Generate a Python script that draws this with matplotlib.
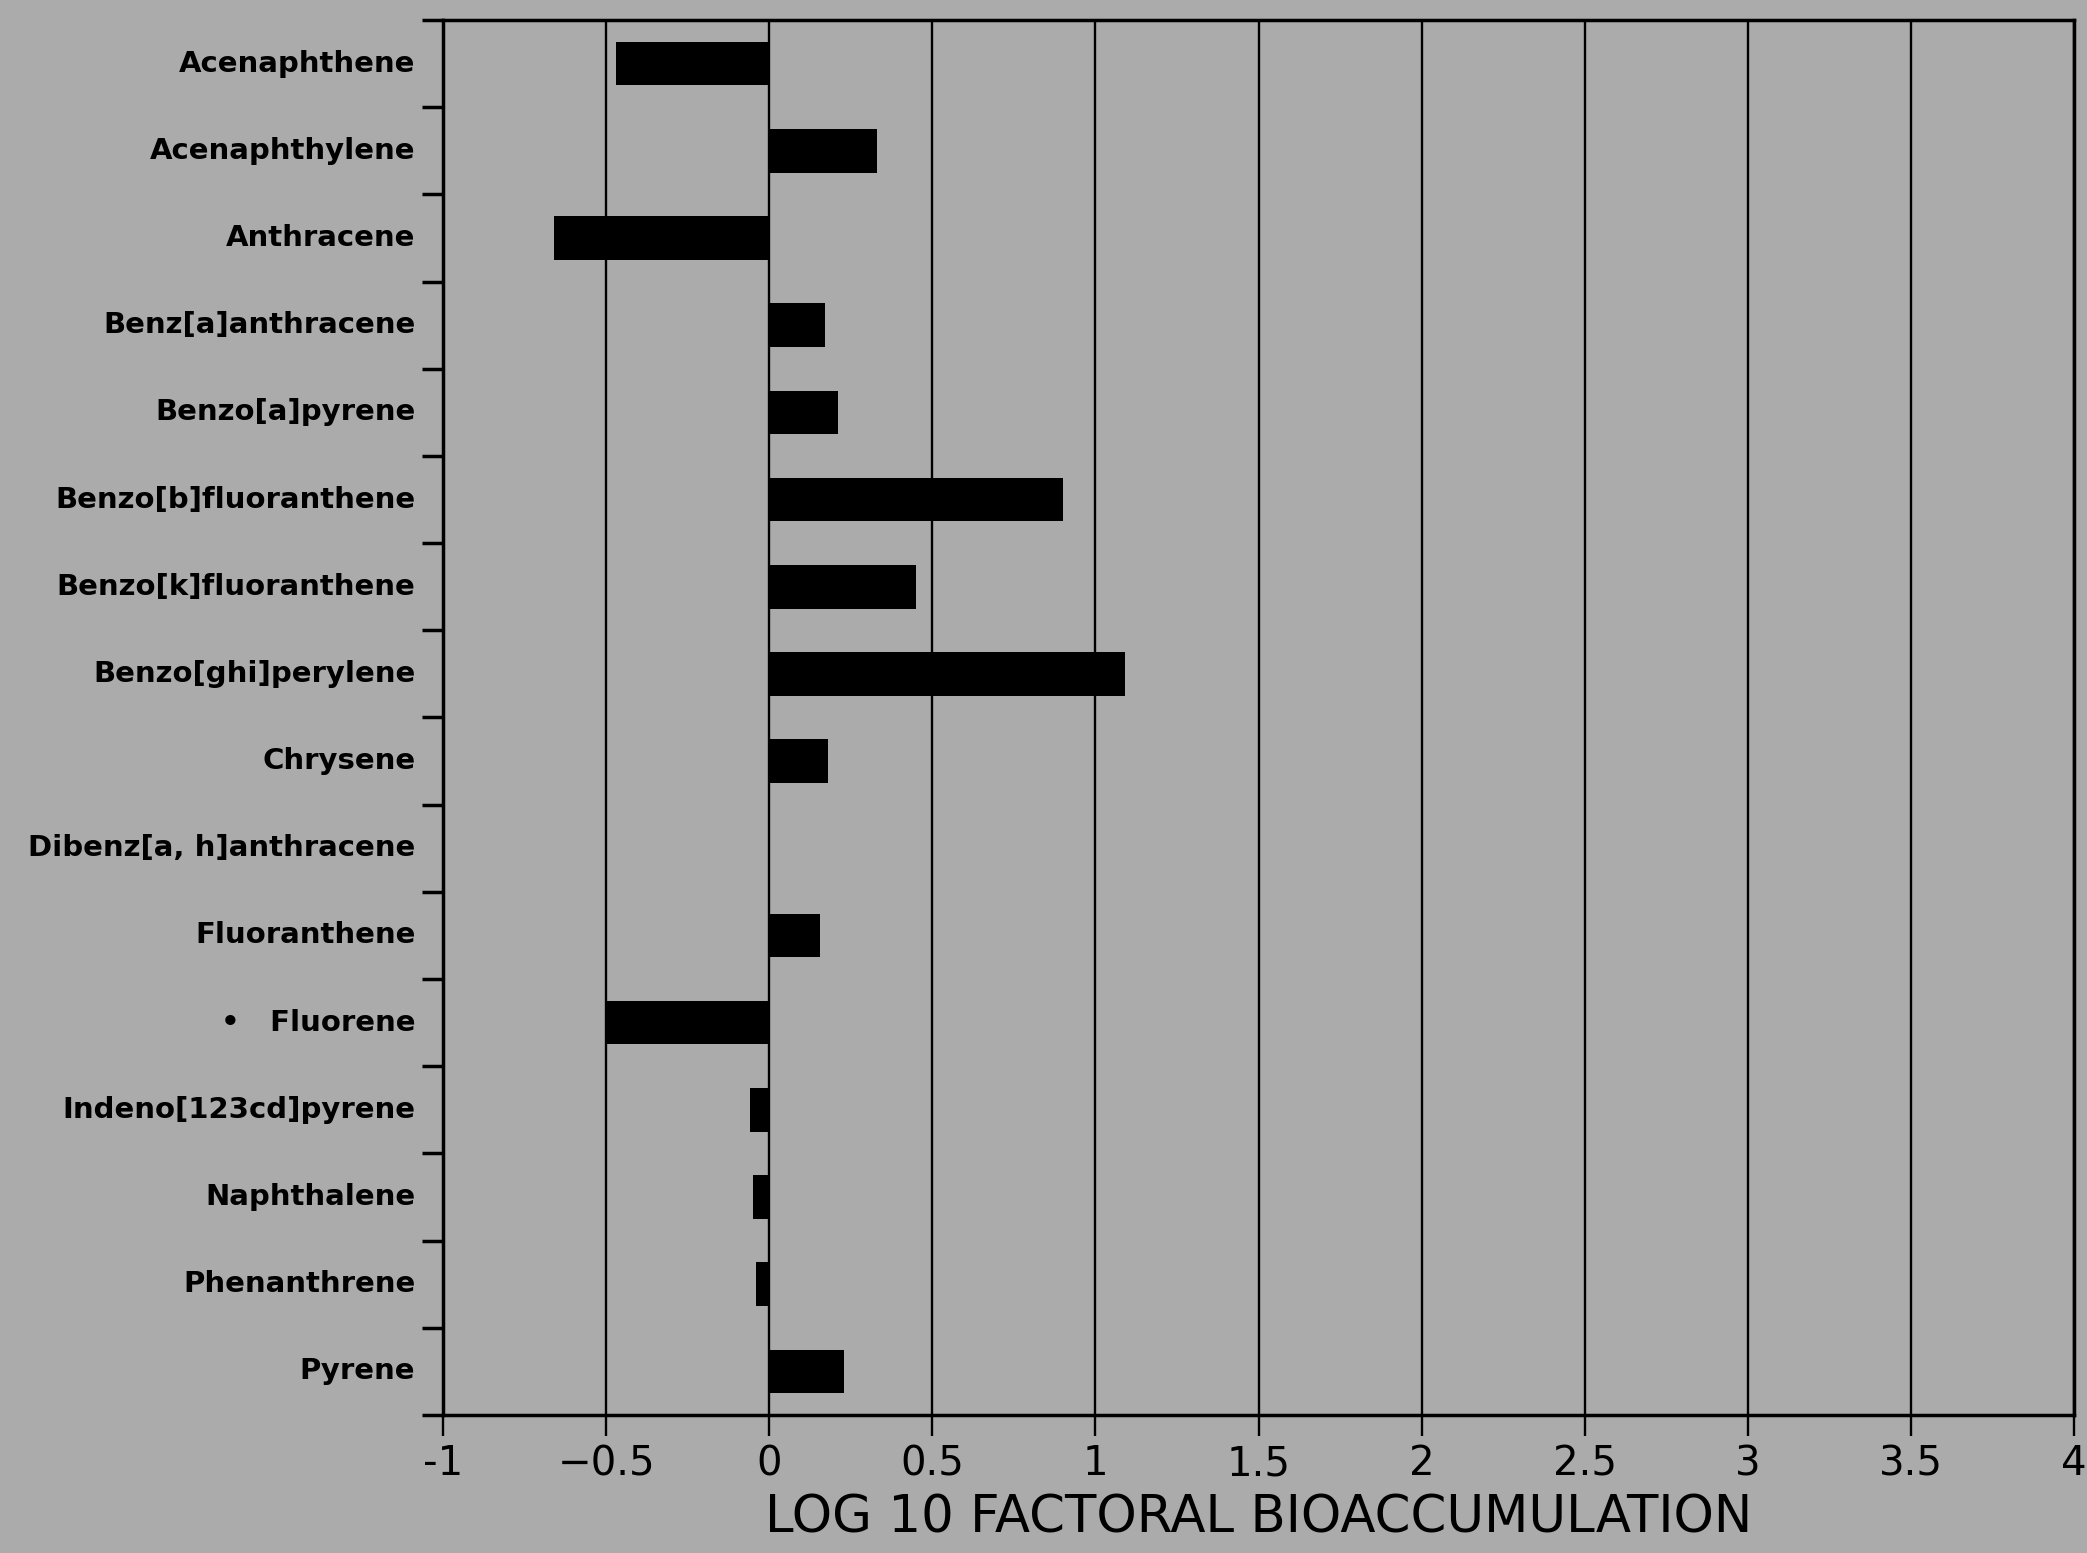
import matplotlib
matplotlib.use("Agg")
import matplotlib.pyplot as plt
import numpy as np

compounds = [
    "Acenaphthene", "Acenaphthylene", "Anthracene", "Benz[a]anthracene",
    "Benzo[a]pyrene", "Benzo[b]fluoranthene", "Benzo[k]fluoranthene",
    "Benzo[ghi]perylene", "Chrysene", "Dibenz[a, h]anthracene",
    "Fluoranthene", "•   Fluorene", "Indeno[123cd]pyrene", "Naphthalene",
    "Phenanthrene", "Pyrene",
]
log10_bioaccumulation = [
    -0.47, 0.33, -0.66, 0.17, 0.21, 0.90, 0.45, 1.09,
    0.18, 0.0, 0.155, -0.50, -0.06, -0.05, -0.04, 0.23,
]
x_ticks = [-1, -0.5, 0, 0.5, 1, 1.5, 2, 2.5, 3, 3.5, 4]
x_tick_labels = ["-1", "\u22120.5", "0", "0.5", "1", "1.5", "2", "2.5", "3", "3.5", "4"]
x_label = "LOG 10 FACTORAL BIOACCUMULATION"

bg = "#ababab"
plt.rcParams['font.family'] = ['DejaVu Sans']

fig = plt.figure(figsize=(20.87, 15.53), dpi=100, facecolor=bg)
ax = fig.add_axes([0.2123, 0.0889, 0.9938 - 0.2123, 0.9871 - 0.0889])
ax.set_facecolor(bg)

n = len(compounds)
pos = np.arange(n)
ax.barh(pos, log10_bioaccumulation, height=0.5, color="black", zorder=3)

ax.set_xlim(-1, 4)
ax.set_ylim(n - 0.5, -0.5)

for xv in x_ticks:
    ax.axvline(xv, color="black", lw=1.7, zorder=2)

ax.set_xticks(x_ticks)
ax.set_xticklabels(x_tick_labels, fontsize=29)
ax.tick_params(axis="x", direction="out", length=15, width=1.7, pad=6, colors="black")

ax.set_yticks(pos)
ax.set_yticklabels(compounds, fontsize=21, fontweight="bold", va="top")
for lbl in ax.get_yticklabels():
    lbl.set_verticalalignment("center")
ax.set_yticks(np.arange(n + 1) - 0.5, minor=True)
ax.tick_params(axis="y", which="major", length=0, pad=20)
ax.tick_params(axis="y", which="minor", direction="out", length=15, width=2.5)

for s in ax.spines.values():
    s.set_linewidth(2.5)
    s.set_color("black")

ax.set_xlabel(x_label, fontsize=37, labelpad=7)

fig.savefig("out.png", dpi=100, facecolor=bg)
